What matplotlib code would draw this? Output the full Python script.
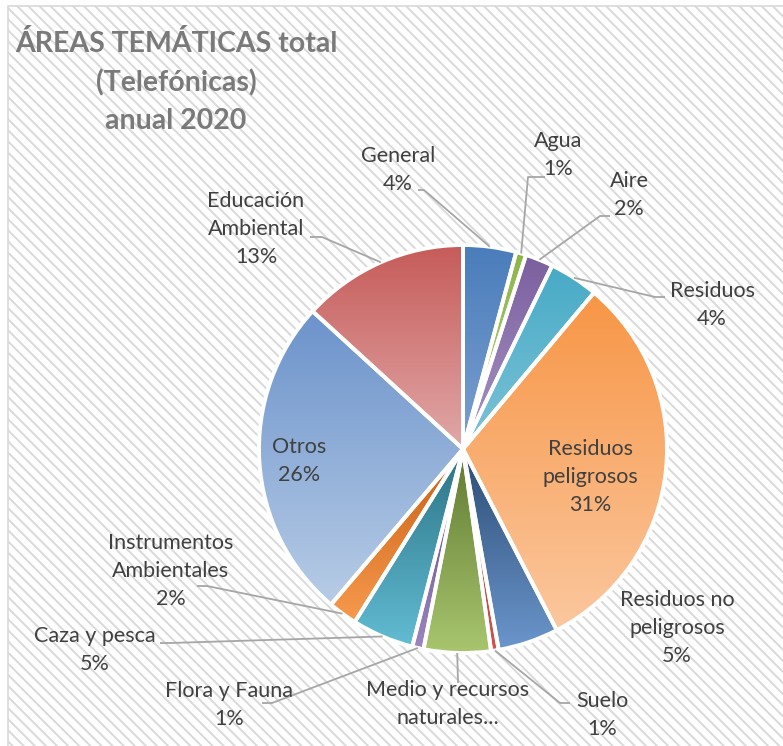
import numpy as np
import matplotlib
matplotlib.use('Agg')
import matplotlib.pyplot as plt
from matplotlib.colors import to_rgb
from matplotlib.patches import Rectangle

W, H = 783, 746

# Data (percent of calls)
categories = ['General', 'Agua', 'Aire', 'Residuos', 'Residuos\npeligrosos',
              'Residuos no\npeligrosos', 'Suelo', 'Medio y recursos\nnaturales',
              'Flora y Fauna', 'Caza y pesca', 'Instrumentos\nAmbientales',
              'Otros', 'Educación\nAmbiental']
values = [4.2, 0.8, 2.2, 3.9, 31.3, 4.8, 0.6, 5.3, 0.9, 4.9, 2.3, 25.6, 13.2]

# gradient colours for each slice (top of slice -> bottom of slice)
top_colors = ['#4a7dbb', '#8db548', '#7b5f9e', '#48aac6', '#f79646', '#2c4d75', '#9b3b39',
              '#5f7a31', '#5e4a7c', '#2b7384', '#c85f12', '#6c93cb', '#c65c5a']
bottom_colors = ['#7c9fd0', '#b3cf80', '#a795c4', '#7cc3d8', '#fbc79e', '#6b96cc', '#d05350',
                 '#a8c56e', '#9a85be', '#62bcd3', '#f79a4e', '#b7cce6', '#e0a8a7']

# label boxes in pixel coords: (x, y of centre, anchor of leader line, elbow)
label_pos = {
    0: (398, 170, (418, 190), (424, 190)),
    1: (558, 155, (545, 177), (528, 177)),
    2: (629, 195, (610, 216), (600, 216)),
    3: (712, 305, (665, 297), (655, 297)),
    4: (590, 477, None, None),
    5: (677, 628, None, None),
    6: (602, 715, (570, 703), (560, 703)),
    7: (448, 704, (458, 683), (458, 683)),
    8: (229, 705, (262, 703), (272, 703)),
    9: (95, 650, (160, 643), (170, 643)),
    10: (171, 571, (197, 586), (207, 586)),
    11: (299, 461, None, None),
    12: (256, 229, (310, 237), (322, 237)),
}

cx, cy, R = 463, 449, 204
text_color = '#404040'
line_color = '#a6a6a6'

plt.rcParams['font.family'] = ['Lato', 'DejaVu Sans']
plt.rcParams['hatch.linewidth'] = 1.4
plt.rcParams['hatch.color'] = '#e2e2e2'

fig = plt.figure(figsize=(W / 100, H / 100), dpi=100)
ax = fig.add_axes([0, 0, 1, 1])
ax.set_axis_off()

# chart area with striped pattern
bg = Rectangle((8, -20), W + 20, H - 6 + 20, facecolor='white', edgecolor='#d9d9d9',
               hatch='\\\\\\', linewidth=1.2, zorder=0)
ax.add_patch(bg)

wedges, _ = ax.pie(values, startangle=90, counterclock=False, center=(cx, H - cy), radius=R,
                   wedgeprops=dict(facecolor='none', edgecolor='white', linewidth=2.8))
for w in wedges:
    w.set_zorder(3)

# gradient fill inside each wedge
for i, w in enumerate(wedges):
    ext = w.get_path().get_extents()
    c0 = np.array(to_rgb(top_colors[i]))
    c1 = np.array(to_rgb(bottom_colors[i]))
    t = np.linspace(0, 1, 64)[:, None]
    img = (c0 * (1 - t) + c1 * t)[:, None, :]
    im = ax.imshow(img, extent=(ext.x0, ext.x1, ext.y0, ext.y1), origin='upper',
                   aspect='auto', interpolation='bilinear', zorder=2)
    im.set_clip_path(w)

ax.set_xlim(0, W)
ax.set_ylim(0, H)

# labels and leader lines
total = sum(values)
for i, name in enumerate(categories):
    lx, ly, anchor, elbow = label_pos[i]
    pct = '%d%%' % round(values[i] / total * 100)
    if i == 7:
        txt = 'Medio y recursos\nnaturales...'
    else:
        txt = name + '\n' + pct
    ax.text(lx, H - ly, txt, ha='center', va='center', fontsize=15.5, color=text_color,
            linespacing=1.5, zorder=5)
    if anchor is not None:
        w = wedges[i]
        mid = np.deg2rad((w.theta1 + w.theta2) / 2)
        rx = cx + R * np.cos(mid)
        ry = (H - cy) + R * np.sin(mid)
        ax.plot([anchor[0], elbow[0], rx], [H - anchor[1], H - elbow[1], ry],
                color=line_color, linewidth=1.3, zorder=4, solid_capstyle='butt')

ax.text(176, H - 82, 'ÁREAS TEMÁTICAS total\n(Telefónicas)\nanual 2020', ha='center',
        va='center', fontsize=20.5, fontweight='bold', color='#7a7a7a', linespacing=1.55, zorder=5)

fig.savefig('out.png', dpi=100)
